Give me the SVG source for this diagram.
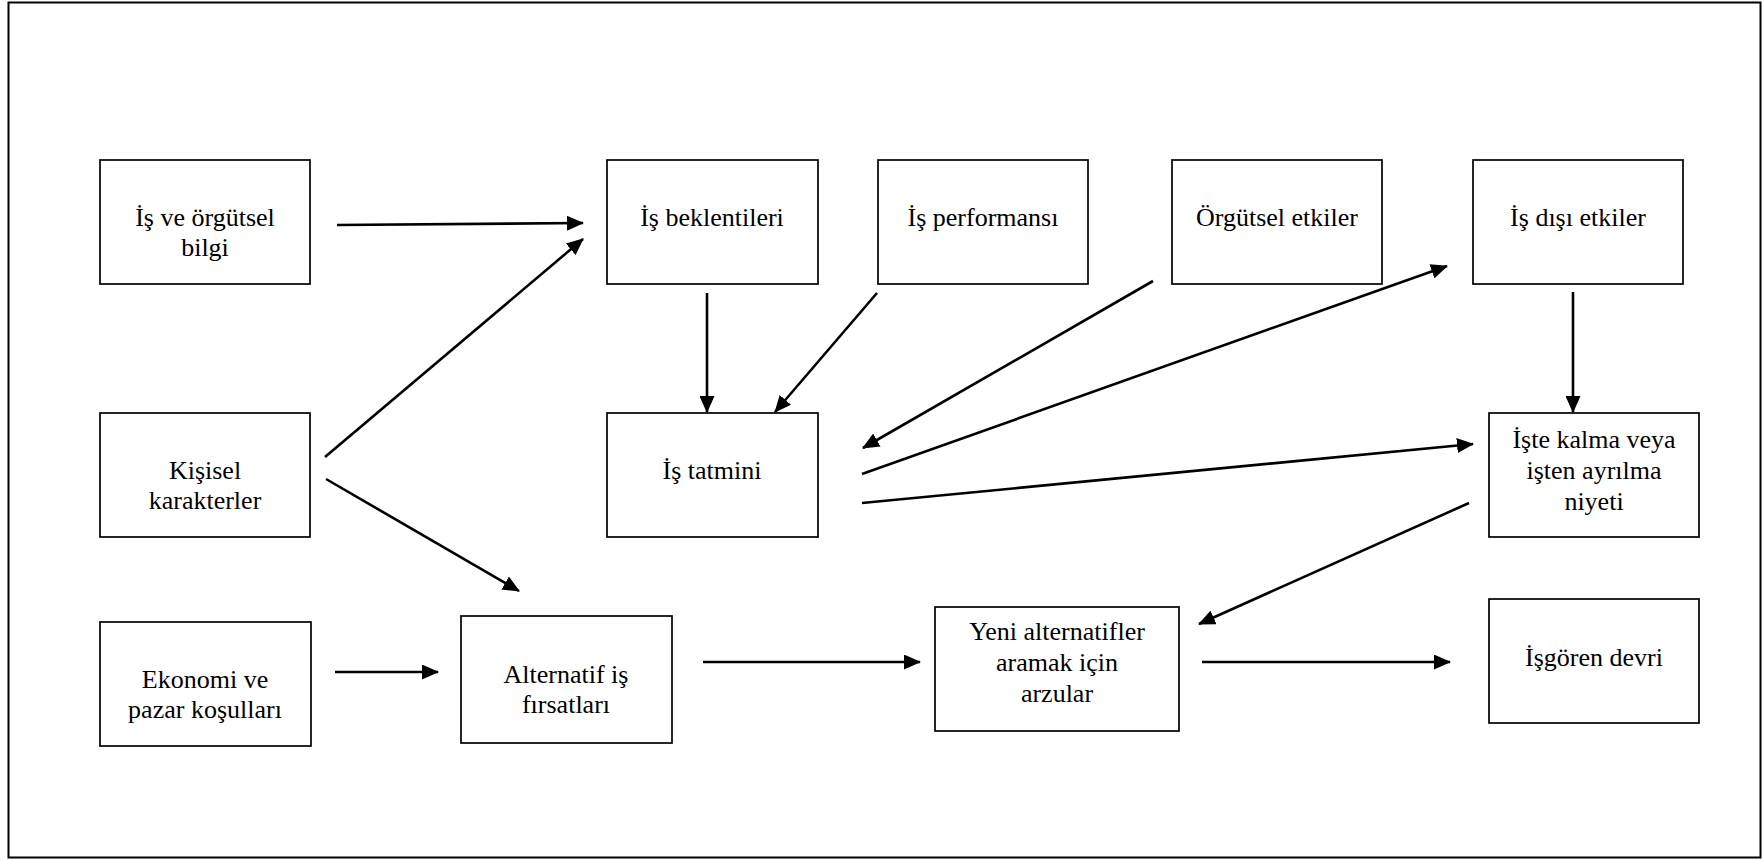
<svg xmlns="http://www.w3.org/2000/svg" width="1762" height="860" viewBox="0 0 1762 860">
<style>
.box{fill:#fff;stroke:#000;stroke-width:1.7}
.t{font-family:"Liberation Serif","Times New Roman",serif;font-size:26px;fill:#000;text-anchor:middle}
.c{stroke:#000;stroke-width:2.6;fill:none;marker-end:url(#ah)}
</style>
<defs>
<marker id="ah" markerUnits="userSpaceOnUse" markerWidth="19" markerHeight="15" refX="16" refY="7.5" orient="auto">
<path d="M0,0 L17,7.5 L0,15 z" fill="#000"/>
</marker>
</defs>
<rect x="0" y="0" width="1762" height="860" fill="#fff"/>
<rect x="8.5" y="2.5" width="1752" height="855" fill="none" stroke="#000" stroke-width="2"/>
<g id="n1"><rect class="box" x="100" y="160" width="210" height="124"/><text class="t" x="205" y="226">İş ve örgütsel</text><text class="t" x="205" y="256">bilgi</text></g>
<g id="n2"><rect class="box" x="607" y="160" width="211" height="124"/><text class="t" x="712" y="226">İş beklentileri</text></g>
<g id="n3"><rect class="box" x="878" y="160" width="210" height="124"/><text class="t" x="983" y="226">İş performansı</text></g>
<g id="n4"><rect class="box" x="1172" y="160" width="210" height="124"/><text class="t" x="1277" y="226">Örgütsel etkiler</text></g>
<g id="n5"><rect class="box" x="1473" y="160" width="210" height="124"/><text class="t" x="1578" y="226">İş dışı etkiler</text></g>
<g id="n6"><rect class="box" x="100" y="413" width="210" height="124"/><text class="t" x="205" y="479">Kişisel</text><text class="t" x="205" y="509">karakterler</text></g>
<g id="n7"><rect class="box" x="607" y="413" width="211" height="124"/><text class="t" x="712" y="479">İş tatmini</text></g>
<g id="n8"><rect class="box" x="1489" y="413" width="210" height="124"/><text class="t" x="1594" y="448">İşte kalma veya</text><text class="t" x="1594" y="479">işten ayrılma</text><text class="t" x="1594" y="510">niyeti</text></g>
<g id="n9"><rect class="box" x="100" y="622" width="211" height="124"/><text class="t" x="205" y="688">Ekonomi ve</text><text class="t" x="205" y="718">pazar koşulları</text></g>
<g id="n10"><rect class="box" x="461" y="616" width="211" height="127"/><text class="t" x="566" y="683">Alternatif iş</text><text class="t" x="566" y="713">fırsatları</text></g>
<g id="n11"><rect class="box" x="935" y="607" width="244" height="124"/><text class="t" x="1057" y="640">Yeni alternatifler</text><text class="t" x="1057" y="671">aramak için</text><text class="t" x="1057" y="702">arzular</text></g>
<g id="n12"><rect class="box" x="1489" y="599" width="210" height="124"/><text class="t" x="1594" y="666">İşgören devri</text></g>
<g id="connectors">
<line class="c" x1="337" y1="225" x2="583" y2="223"/>
<line class="c" x1="325" y1="457" x2="583" y2="239"/>
<line class="c" x1="326" y1="479" x2="519" y2="591"/>
<line class="c" x1="707" y1="293" x2="707" y2="412"/>
<line class="c" x1="877" y1="293" x2="775" y2="412"/>
<line class="c" x1="1153" y1="281" x2="863" y2="448"/>
<line class="c" x1="862" y1="474" x2="1447" y2="266"/>
<line class="c" x1="862" y1="503" x2="1473" y2="444"/>
<line class="c" x1="1573" y1="292" x2="1573" y2="412"/>
<line class="c" x1="1469" y1="503" x2="1199" y2="624"/>
<line class="c" x1="335" y1="672" x2="438" y2="672"/>
<line class="c" x1="703" y1="662" x2="920" y2="662"/>
<line class="c" x1="1202" y1="662" x2="1450" y2="662"/>
</g>
</svg>
